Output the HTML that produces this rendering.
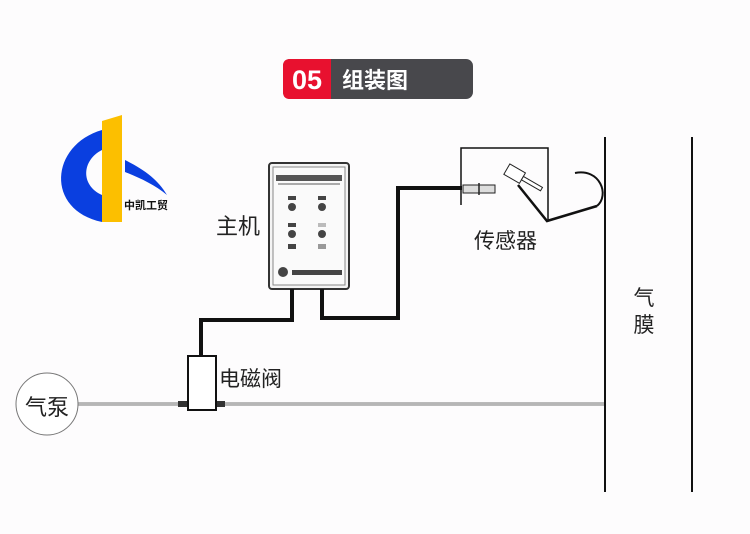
<!DOCTYPE html>
<html><head><meta charset="utf-8"><style>
body{margin:0;background:#fdfcfd;}
svg text{font-family:"Liberation Sans","Noto Sans CJK SC",sans-serif;}
</style></head><body>
<svg width="750" height="529" viewBox="0 0 750 529" xmlns="http://www.w3.org/2000/svg">
<rect width="750" height="529" fill="#fdfcfd"/>
<rect x="283" y="59" width="190" height="40" rx="7" fill="#48484c"/>
<path d="M290 59 H331 V99 H290 Q283 99 283 92 V66 Q283 59 290 59Z" fill="#e8112f"/>
<text x="307" y="89" font-size="27" font-weight="bold" fill="#fff" text-anchor="middle">05</text>
<text x="342" y="88" font-size="22" font-weight="bold" fill="#fff">组装图</text>
<path d="M102 130 C50 145 45 210 102 222 L102 195 C80 185 82 160 102 150Z" fill="#0a3fe0"/>
<path d="M125 160 C145 170 158 180 167 195 C155 185 140 178 125 172Z" fill="#0a3fe0"/>
<polygon points="102,121 122,115 122,222 102,222" fill="#fcbf00"/>
<text x="124" y="209" font-size="11" font-weight="bold" fill="#111">中凯工贸</text>
<rect x="269" y="163" width="80" height="126" rx="3" fill="#f4f4f4" stroke="#333" stroke-width="2"/>
<rect x="273" y="167" width="72" height="118" fill="#fafafa" stroke="#888" stroke-width="1"/>
<rect x="276" y="175" width="66" height="6" fill="#555"/>
<rect x="278" y="183" width="62" height="2" fill="#aaa"/>
<g fill="#444">
<rect x="288" y="196" width="8" height="4"/><circle cx="292" cy="207" r="4"/>
<rect x="318" y="196" width="8" height="4"/><circle cx="322" cy="207" r="4"/>
<rect x="288" y="223" width="8" height="4"/><circle cx="292" cy="234" r="4"/>
<rect x="318" y="223" width="8" height="4" fill="#bbb"/><circle cx="322" cy="234" r="4"/>
<rect x="288" y="244" width="8" height="5"/><rect x="318" y="244" width="8" height="5" fill="#999"/>
<circle cx="283" cy="272" r="5"/><rect x="292" y="270" width="50" height="5"/>
</g>
<g fill="none" stroke="#111" stroke-width="4">
<path d="M292 289 V320 H201 V357"/>
<path d="M322 289 V318 H398 V188 H462"/>
</g>
<line x1="78" y1="404" x2="605" y2="404" stroke="#777" stroke-width="3"/>
<line x1="78" y1="404" x2="605" y2="404" stroke="#f4f4f4" stroke-width="1"/>
<circle cx="47" cy="404" r="31" fill="#fff" stroke="#777" stroke-width="1"/>
<text x="47" y="415" font-size="22" fill="#222" text-anchor="middle">气泵</text>
<rect x="178" y="401" width="10" height="6" fill="#333"/>
<rect x="216" y="401" width="9" height="6" fill="#333"/>
<rect x="188" y="356" width="28" height="54" fill="#fff" stroke="#111" stroke-width="2"/>
<text x="219" y="386" font-size="21" fill="#222">电磁阀</text>
<text x="216" y="234" font-size="22" fill="#222">主机</text>
<path d="M461 205 V148 H548 V220" fill="none" stroke="#111" stroke-width="1.5"/>
<rect x="463" y="185" width="32" height="8" fill="#ddd" stroke="#222" stroke-width="1"/>
<line x1="479" y1="183" x2="479" y2="195" stroke="#222" stroke-width="1.5"/>
<g transform="rotate(30 515 175)">
<rect x="505" y="168" width="18" height="12" fill="#fff" stroke="#222"/>
<rect x="523" y="172" width="22" height="4" fill="#fff" stroke="#222"/>
</g>
<path d="M518 185 L547 221 L597 206" fill="none" stroke="#111" stroke-width="2.5"/>
<path d="M575 173 C600 168 610 195 597 206" fill="none" stroke="#111" stroke-width="2"/>
<text x="474" y="248" font-size="21" fill="#222">传感器</text>
<line x1="605" y1="137" x2="605" y2="492" stroke="#111" stroke-width="2"/>
<line x1="692" y1="137" x2="692" y2="492" stroke="#111" stroke-width="2"/>
<text x="644" y="305" font-size="21" fill="#222" text-anchor="middle">气</text>
<text x="644" y="332" font-size="21" fill="#222" text-anchor="middle">膜</text>
</svg>
</body></html>
